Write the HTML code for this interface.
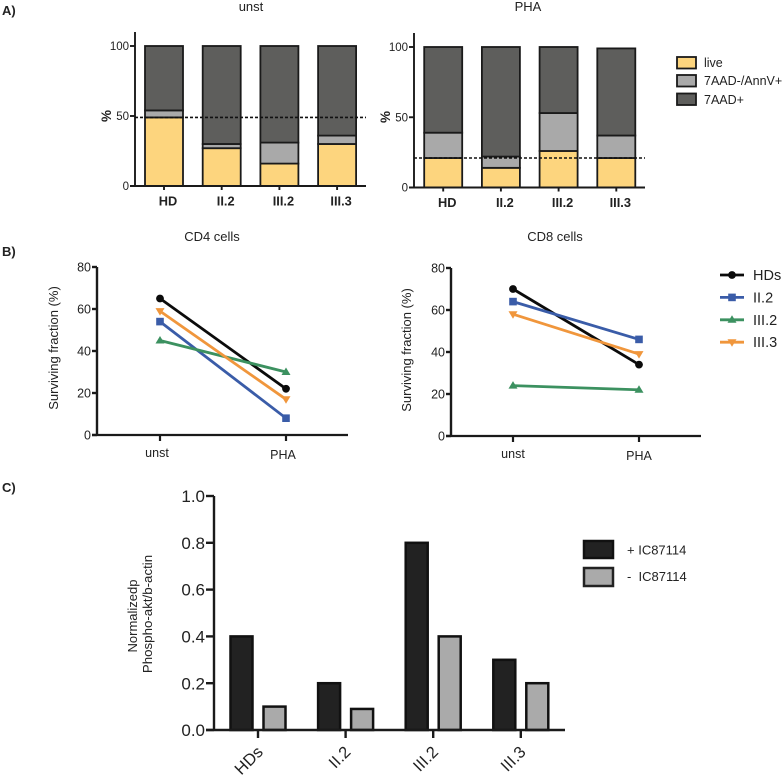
<!DOCTYPE html>
<html lang="en">
<head>
<meta charset="utf-8">
<title>Cell survival figure</title>
<style>
html,body{margin:0;padding:0;background:#fff;width:784px;height:778px;overflow:hidden}
svg{display:block;filter:blur(.3px)}
text{font-family:"Liberation Sans",sans-serif;fill:#222}
</style>
</head>
<body>
<svg id="fig" width="784" height="778" viewBox="0 0 784 778" xmlns="http://www.w3.org/2000/svg">
  <text x="2" y="15" font-size="13" font-weight="bold">A)</text>
  <text x="2" y="256" font-size="13" font-weight="bold">B)</text>
  <text x="2" y="492" font-size="13" font-weight="bold">C)</text>

  <text x="251" y="11" font-size="13" text-anchor="middle">unst</text>
  <text x="528" y="11" font-size="13" text-anchor="middle">PHA</text>
  <text x="212" y="241" font-size="13" text-anchor="middle">CD4 cells</text>
  <text x="555" y="241" font-size="13" text-anchor="middle">CD8 cells</text>

  <text transform="translate(111,116) rotate(-90)" font-size="13.5" font-weight="bold" text-anchor="middle">%</text>
  <text transform="translate(390,117) rotate(-90)" font-size="13.5" font-weight="bold" text-anchor="middle">%</text>
  <text transform="translate(58,348) rotate(-90)" font-size="13" text-anchor="middle">Surviving fraction (%)</text>
  <text transform="translate(411,350) rotate(-90)" font-size="13" text-anchor="middle">Surviving fraction (%)</text>
  <text transform="translate(137,616) rotate(-90)" font-size="13" text-anchor="middle">Normalizedp</text>
  <text transform="translate(152,614) rotate(-90)" font-size="13.3" text-anchor="middle">Phospho-akt/b-actin</text>

  <g>
    <rect x="677" y="57" width="19" height="11.5" fill="#fdd57e" stroke="#1a1a1a" stroke-width="1.8"/>
    <text x="704" y="67" font-size="12.5">live</text>
    <rect x="677" y="75" width="19" height="11.5" fill="#a9a9a9" stroke="#1a1a1a" stroke-width="1.8"/>
    <text x="704" y="85" font-size="12.5">7AAD-/AnnV+</text>
    <rect x="677" y="93.5" width="19" height="11.5" fill="#5e5e5c" stroke="#1a1a1a" stroke-width="1.8"/>
    <text x="704" y="104" font-size="12.5">7AAD+</text>
  </g>

  <g>
    <rect x="584" y="541" width="29" height="17" fill="#222" stroke="#111" stroke-width="2.5"/>
    <text x="627" y="554.5" font-size="13">+ IC87114</text>
    <rect x="584" y="568" width="29" height="18" fill="#aaa" stroke="#222" stroke-width="2.5"/>
    <text x="627" y="581" font-size="13" xml:space="preserve">-  IC87114</text>
  </g>
</svg>

<script>
// Panel A data
const stackCategories = ['HD', 'II.2', 'III.2', 'III.3'];
const stackTicks = [0, 50, 100];
const unstLive = [49, 27, 16, 30];
const unstAnnV = [5, 3, 15, 6];
const unst7AAD = [46, 70, 69, 64];
const unstReference = 49;
const phaLive = [21, 14, 26, 21];
const phaAnnV = [18, 8, 27, 16];
const pha7AAD = [61, 78, 47, 62];
const phaReference = 21;

// Panel B data
const lineCategories = ['unst', 'PHA'];
const lineTicks = [0, 20, 40, 60, 80];
const seriesNames = ['HDs', 'II.2', 'III.2', 'III.3'];
const cd4HDs = [65, 22];
const cd4II2 = [54, 8];
const cd4III2 = [45, 30];
const cd4III3 = [59, 17];
const cd8HDs = [70, 34];
const cd8II2 = [64, 46];
const cd8III2 = [24, 22];
const cd8III3 = [58, 39];

// Panel C data
const aktCategories = ['HDs', 'II.2', 'III.2', 'III.3'];
const aktTicks = ['0.0', '0.2', '0.4', '0.6', '0.8', '1.0'];
const aktPlus = [0.4, 0.2, 0.8, 0.3];
const aktMinus = [0.1, 0.09, 0.4, 0.2];

const NS = 'http://www.w3.org/2000/svg';
const fig = document.getElementById('fig');

function make(tag, props, parent) {
  const el = document.createElementNS(NS, tag);
  for (const k in props) el.setAttribute(k, props[k]);
  (parent || fig).appendChild(el);
  return el;
}
function seg(x1, y1, x2, y2, w, color, parent) {
  return make('line', {x1: x1, y1: y1, x2: x2, y2: y2, stroke: color || '#1a1a1a', 'stroke-width': w}, parent);
}
function label(str, x, y, size, anchor, weight, parent) {
  const t = make('text', {x: x, y: y, 'font-size': size, 'text-anchor': anchor, 'font-weight': weight || 'normal'}, parent);
  t.textContent = str;
  return t;
}
function linear(d0, d1, r0, r1) {
  return function (v) { return r0 + (v - d0) / (d1 - d0) * (r1 - r0); };
}

function yAxis(prefix, opts, ticks, toY) {
  const g = make('g', {});
  
  
  const axis = seg(opts.x, opts.top, opts.x, opts.bottom, opts.w, '#1a1a1a', g);
  
  
  ticks.forEach(function (tk) {
    const y = toY(Number(tk));
    const m = seg(opts.x - opts.tick, y, opts.x, y, opts.w, '#1a1a1a', g);
    
    
    const t = label(String(tk), opts.x - opts.tick - 1, y + opts.size * 0.36, opts.size, 'end', 'normal', g);
    
    
  });
}
function xAxis(prefix, opts, cats, toX) {
  const g = make('g', {});
  
  
  const axis = seg(opts.left, opts.y, opts.right, opts.y, opts.w, '#1a1a1a', g);
  
  
  cats.forEach(function (c, i) {
    const x = toX(i);
    const m = seg(x, opts.y, x, opts.y + opts.tick, opts.w, '#1a1a1a', g);
    
    
    let t;
    if (opts.rotate) {
      t = label(c, 0, 0, opts.size, 'end', opts.weight, g);
      t.setAttribute('transform', 'translate(' + (x + opts.dx) + ',' + (opts.y + opts.dy) + ') rotate(-45)');
    } else {
      t = label(c, x + opts.dx, opts.y + opts.dy + (i === 1 ? opts.step || 0 : 0), opts.size, 'middle', opts.weight, g);
    }
    
    
  });
}

/* ---------- Panel A ---------- */
function stackChart(prefix, o, live, annv, dead, refValue) {
  const toY = linear(0, 100, o.y0, o.y100);
  const toX = function (i) { return o.first + i * o.step; };
  yAxis(prefix, {x: o.ax, top: o.top, bottom: o.y0, w: 1.9, tick: 5, size: 11.5}, stackTicks, toY);
  const layers = [[live, '#fdd57e', 'live'], [annv, '#a9a9a9', 'annv'], [dead, '#5e5e5c', '7aad']];
  stackCategories.forEach(function (c, i) {
    let base = 0;
    layers.forEach(function (l) {
      const v = l[0][i];
      const r = make('rect', {
        x: toX(i) - o.bw / 2, y: toY(base + v), width: o.bw, height: toY(base) - toY(base + v),
        fill: l[1], stroke: '#1a1a1a', 'stroke-width': 1.8
      });
      
      
      base += v;
    });
  });
  xAxis(prefix, {left: o.ax - 5, right: o.right, y: o.y0, w: 1.9, tick: 4, size: 12.8, weight: 'bold', dx: 4, dy: 19.5}, stackCategories, toX);
  const ref = seg(o.ax, toY(refValue), o.right, toY(refValue), 1.6, '#111');
  ref.setAttribute('stroke-dasharray', '3 2');
  
  
}
stackChart('unst', {ax: 135, top: 32, y0: 186, y100: 46, first: 164, step: 57.7, bw: 38, right: 366}, unstLive, unstAnnV, unst7AAD, unstReference);
stackChart('pha', {ax: 414, top: 33, y0: 187.5, y100: 47, first: 443.2, step: 57.7, bw: 38, right: 645}, phaLive, phaAnnV, pha7AAD, phaReference);

/* ---------- Panel B ---------- */
const seriesColors = ['#0b0b0b', '#3a5ca8', '#3c9160', '#f0963c'];
function marker(kind, x, y, color, parent) {
  if (kind === 0) return make('circle', {cx: x, cy: y, r: 3.9, fill: color}, parent);
  if (kind === 1) return make('rect', {x: x - 3.8, y: y - 3.8, width: 7.6, height: 7.6, fill: color}, parent);
  if (kind === 2) return make('polygon', {points: (x - 4.5) + ',' + (y + 3) + ' ' + (x + 4.5) + ',' + (y + 3) + ' ' + x + ',' + (y - 4.5), fill: color}, parent);
  return make('polygon', {points: (x - 4.5) + ',' + (y - 3) + ' ' + (x + 4.5) + ',' + (y - 3) + ' ' + x + ',' + (y + 4.5), fill: color}, parent);
}
function lineChart(prefix, o, allSeries) {
  const toY = linear(0, 80, o.y0, o.y80);
  const toX = function (i) { return o.x0 + i * o.dx; };
  yAxis(prefix, {x: o.ax, top: o.y80, bottom: o.y0, w: 2.4, tick: 5, size: 12.5}, lineTicks, toY);
  xAxis(prefix, {left: o.ax - 5, right: o.right, y: o.y0, w: 2.2, tick: 6, size: 12.5, weight: 'normal', dx: o.labelDx, dy: 22, step: 2}, lineCategories, toX);
  allSeries.forEach(function (vals, s) {
    const g = make('g', {});
    
    
    const path = make('polyline', {
      points: vals.map(function (v, i) { return toX(i) + ',' + toY(v); }).join(' '),
      fill: 'none', stroke: seriesColors[s], 'stroke-width': 2.8
    }, g);
    
    
    vals.forEach(function (v, i) {
      const m = marker(s, toX(i), toY(v), seriesColors[s], g);
      
      
    });
  });
}
lineChart('cd4', {ax: 97, y0: 435, y80: 267, x0: 160, dx: 126, right: 348, labelDx: -3}, [cd4HDs, cd4II2, cd4III2, cd4III3]);
lineChart('cd8', {ax: 451, y0: 436, y80: 268, x0: 513, dx: 126, right: 701, labelDx: 0}, [cd8HDs, cd8II2, cd8III2, cd8III3]);

seriesNames.forEach(function (name, s) {
  const y = 275 + s * 22.4;
  const g = make('g', {});
  
  
  const l = seg(720, y, 744, y, 2.8, seriesColors[s], g);
  
  
  const m = marker(s, 732, y, seriesColors[s], g);
  
  
  const t = label(name, 753, y + 5, 14.5, 'start', 'normal', g);
  
  
});

/* ---------- Panel C ---------- */
(function () {
  const toY = linear(0, 1, 730, 496);
  const toX = function (i) { return 258 + i * 87.6; };
  const barW = 22;
  yAxis('akt', {x: 214, top: 496, bottom: 730, w: 2.4, tick: 8, size: 17}, aktTicks, toY);
  aktCategories.forEach(function (c, i) {
    const p = make('rect', {x: toX(i) - 27.5, y: toY(aktPlus[i]), width: barW, height: 730 - toY(aktPlus[i]), fill: '#222', stroke: '#111', 'stroke-width': 2.5});
    
    
    const q = make('rect', {x: toX(i) + 5.5, y: toY(aktMinus[i]), width: barW, height: 730 - toY(aktMinus[i]), fill: '#aaa', stroke: '#111', 'stroke-width': 2.5});
    
    
  });
  xAxis('akt', {left: 206, right: 565, y: 730, w: 2.4, tick: 8, size: 16.5, weight: 'normal', rotate: true, dx: 6, dy: 23}, aktCategories, toX);
})();
</script>
</body>
</html>
